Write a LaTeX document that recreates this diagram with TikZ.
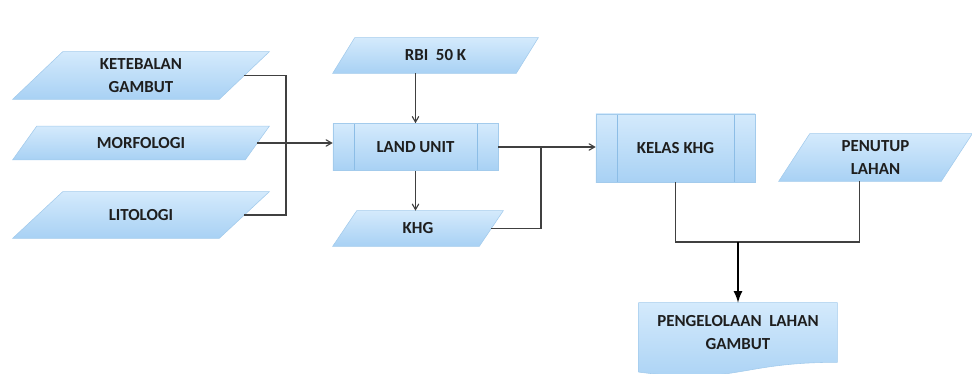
\documentclass[tikz,border=0pt]{standalone}
\usepackage{fontspec}
\setmainfont{Carlito}
\usepackage{tikz}
\usetikzlibrary{calc, positioning, arrows, backgrounds}

\definecolor{boxtop}{HTML}{D4EAFC}
\definecolor{boxbot}{HTML}{A8D1F4}
\definecolor{boxline}{HTML}{A3CBEC}
\definecolor{barline}{HTML}{8CBDE6}
\definecolor{txtgray}{HTML}{1E1E1E}
\definecolor{linegray}{HTML}{404040}

\tikzset{
  lbl/.style={font=\fontsize{12}{16}\selectfont\bfseries, text=txtgray, align=center},
  datain/.style={lbl, rectangle, inner sep=1pt},
  boxfill/.style={draw=boxline, top color=boxtop, bottom color=boxbot},
  procbox/.style={lbl, rectangle, boxfill,
    path picture={\draw[barline] ([xshift=5.25mm]path picture bounding box.north west) -- ([xshift=5.25mm]path picture bounding box.south west)
      ([xshift=-5.25mm]path picture bounding box.north east) -- ([xshift=-5.25mm]path picture bounding box.south east);}},
  link/.style={draw=linegray, line width=0.8pt}
}

\begin{document}
\begin{tikzpicture}[x=0.025cm, y=-0.025cm, >=angle 60]
        \useasboundingbox (0,0) rectangle (972,374);

        % input data
        \node[datain, minimum width=5.15cm, minimum height=1.175cm](ket) at (141,75.5){KETEBALAN\\GAMBUT};
        \node[datain, minimum width=5.8cm, minimum height=0.825cm](mor) at (141,143){MORFOLOGI};
        \node[datain, minimum width=5.15cm, minimum height=1.15cm](lit) at (141,215){LITOLOGI};
        \node[datain, minimum width=4.575cm, minimum height=0.875cm](rbi) at (435.5,55.5){RBI\ \ 50 K};

        % processes
        \node[procbox, minimum width=4.125cm, minimum height=1.175cm](lu) at (415.5,147){LAND UNIT};
        \node[datain, minimum width=3.65cm, minimum height=0.875cm](khg) at (418,228.5){KHG};
        \node[procbox, minimum width=3.975cm, minimum height=1.7cm](kelas) at (675.5,148){KELAS KHG};
        \node[datain, minimum width=4.05cm, minimum height=1.175cm](pen) at (875.5,157.5){PENUTUP\\LAHAN};

        % output
        \node[lbl, minimum width=4.95cm, minimum height=1.475cm](doc) at (738,332.5){PENGELOLAAN\ \ LAHAN\\GAMBUT};

        \begin{scope}[on background layer]
            \foreach \n/\s in {ket/25, mor/12, lit/25, rbi/11, khg/12, pen/15.5}
                \draw[boxfill] ($(\n.south west)+(-\s,0)$) -- ($(\n.north west)+(\s,0)$)
                    -- ($(\n.north east)+(\s,0)$) -- ($(\n.south east)+(-\s,0)$) -- cycle;
            \draw[boxfill]
            (doc.north west) -- (doc.north east) -- (doc.south east)
            .. controls (doc.south) and ($(doc.south)+(0,22.6)$) .. ($(doc.south west)+(0,9.8)$) -- cycle;
        \end{scope}

        \coordinate (jl) at (286,145);
        \coordinate (jk) at (541,147);
        \coordinate (jm) at (738,242);

        \draw[link] (ket.east) -| (jl |- lit.east) -- (lit.east);
        \draw[link, ->] (mor.east) -- (mor.east -| lu.west);
        \draw[link, ->] (lu.north |- rbi.south) -- (lu.north);
        \draw[link, ->] (lu.south) -- (lu.south |- khg.north);
        \draw[link, ->] (lu.east) -- (lu.east -| kelas.west);
        \draw[link] (khg.east) -| (jk);
        \draw[link] (kelas.south) |- (jm) -| ([xshift=-3.9mm]pen.south);
        \draw[black, line width=1.8pt, -latex] (jm) -- (doc.north);
    \end{tikzpicture}
\end{document}
